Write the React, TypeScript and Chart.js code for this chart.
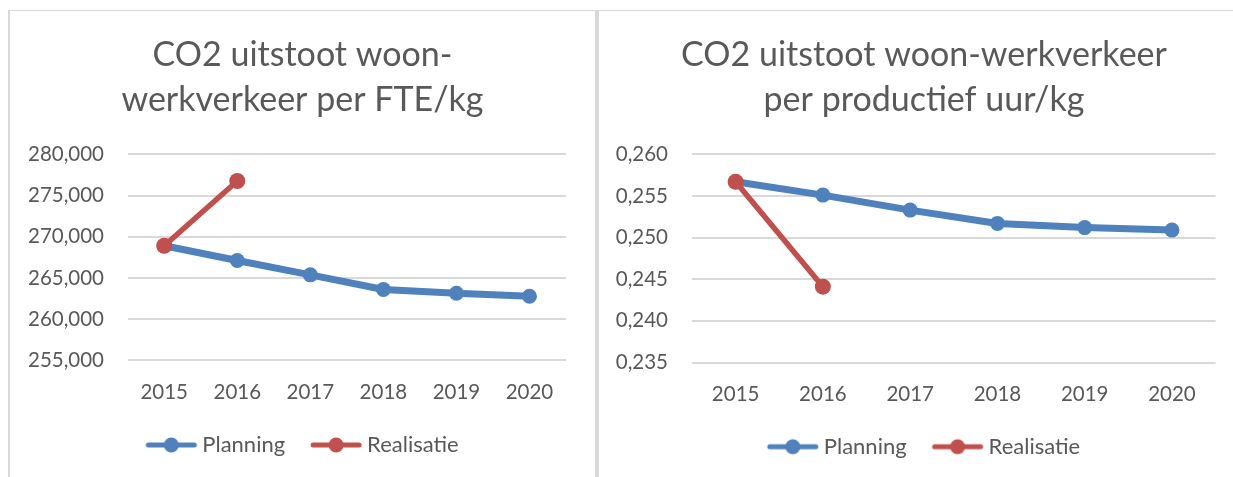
import React, { useEffect, useRef } from "react";
import { Chart, registerables } from "chart.js";

Chart.register(...registerables);

// ---- data ----
const years = ["2015", "2016", "2017", "2018", "2019", "2020"];
const seriesNames = ["Planning", "Realisatie"];
const seriesColors = ["#4F81BD", "#C0504D"];

const fteTitle = ["CO2 uitstoot woon-", "werkverkeer per FTE/kg"];
const ftePlanning = [268.9, 267.11, 265.37, 263.59, 263.14, 262.78];
const fteRealisatie = [268.9, 276.76, null, null, null, null];
const fteTicks = [255, 260, 265, 270, 275, 280];

const uurTitle = ["CO2 uitstoot woon-werkverkeer", "per productief uur/kg"];
const uurPlanning = [0.2567, 0.2551, 0.2533, 0.2517, 0.2512, 0.2509];
const uurRealisatie = [0.2567, 0.2441, null, null, null, null];
const uurTicks = [0.235, 0.24, 0.245, 0.25, 0.255, 0.26];

const TEXT = "#595959";
const GRID = "#D9D9D9";
const FONT = "Lato";

function fmt(v: number) {
  return Number(v).toFixed(3).replace(".", ",");
}

// legend swatch: line with a round marker; the image is wider on the left so the
// visible line sits flush with the start of the legend item and close to the text
function legendIcon(color: string) {
  const c = document.createElement("canvas");
  c.width = 61;
  c.height = 18;
  const ctx = c.getContext("2d")!;
  ctx.strokeStyle = color;
  ctx.lineWidth = 5;
  ctx.lineCap = "round";
  ctx.beginPath();
  ctx.moveTo(10, 9);
  ctx.lineTo(56, 9);
  ctx.stroke();
  ctx.fillStyle = color;
  ctx.beginPath();
  ctx.arc(33, 9, 7.5, 0, Math.PI * 2);
  ctx.fill();
  return c;
}

type Cfg = {
  title: string[];
  planning: (number | null)[];
  realisatie: (number | null)[];
  ticks: number[];
  yWidth: number;
  rightPad: number;
  bottomPad: number;
  xHeight: number;
  xPad: number;
  yPad: number;
};

function buildConfig(p: Cfg): any {
  const icons = seriesColors.map(legendIcon);
  return {
    type: "line",
    data: {
      labels: years,
      datasets: [
        {
          label: seriesNames[0],
          data: p.planning,
          borderColor: seriesColors[0],
          backgroundColor: seriesColors[0],
          pointBackgroundColor: seriesColors[0],
          borderWidth: 7,
          pointRadius: 7.5,
          pointBorderWidth: 0,
          borderCapStyle: "round",
          borderJoinStyle: "round",
          tension: 0,
          order: 1,
        },
        {
          label: seriesNames[1],
          data: p.realisatie,
          borderColor: seriesColors[1],
          backgroundColor: seriesColors[1],
          pointBackgroundColor: seriesColors[1],
          borderWidth: 5.5,
          pointRadius: 8,
          pointBorderWidth: 0,
          borderCapStyle: "round",
          borderJoinStyle: "round",
          tension: 0,
          order: 0,
        },
      ],
    },
    options: {
      responsive: false,
      animation: false,
      events: [],
      layout: { padding: { left: 0, right: 0, top: 0, bottom: p.bottomPad } },
      plugins: {
        tooltip: { enabled: false },
        title: {
          display: true,
          text: p.title,
          color: TEXT,
          font: { family: FONT, size: 34, weight: "normal", lineHeight: "45px" },
          padding: { top: 20.5, bottom: 31.8 },
        },
        legend: {
          display: true,
          position: "bottom",
          labels: {
            usePointStyle: true,
            pointStyleWidth: 45,
            padding: 26,
            color: TEXT,
            font: { family: FONT, size: 22 },
            generateLabels: (chart: any) => {
              const items = (Chart as any).defaults.plugins.legend.labels.generateLabels(chart);
              return items
                .slice()
                .sort((a: any, b: any) => a.datasetIndex - b.datasetIndex)
                .map((it: any) => ({ ...it, pointStyle: icons[it.datasetIndex] }));
            },
          },
        },
      },
      scales: {
        x: {
          offset: true,
          grid: { display: false, drawTicks: false },
          border: { display: false },
          ticks: { color: TEXT, font: { family: FONT, size: 20.5 }, padding: p.xPad },
          afterFit: (s: any) => {
            s.height = p.xHeight;
          },
        },
        y: {
          min: p.ticks[0],
          max: p.ticks[p.ticks.length - 1],
          grid: { color: GRID, lineWidth: 2, drawTicks: false },
          border: { display: false },
          ticks: {
            color: TEXT,
            font: { family: FONT, size: 20.5 },
            padding: p.yPad,
            callback: (v: any) => fmt(v),
          },
          afterBuildTicks: (s: any) => {
            s.ticks = p.ticks.map((v) => ({ value: v }));
          },
          afterFit: (s: any) => {
            s.width = p.yWidth;
          },
        },
        spacer: {
          type: "linear",
          position: "right",
          display: true,
          grid: { display: false, drawTicks: false },
          border: { display: false },
          ticks: { display: false },
          afterFit: (s: any) => {
            s.width = p.rightPad;
          },
        },
      },
    },
  };
}

function LineChart({ cfg, width, height }: { cfg: Cfg; width: number; height: number }) {
  const ref = useRef<HTMLCanvasElement>(null);
  useEffect(() => {
    if (!ref.current) return;
    const chart = new Chart(ref.current, buildConfig(cfg));
    return () => chart.destroy();
  }, []);
  return <canvas ref={ref} width={width} height={height} style={{ display: "block", width, height }} />;
}

export default function App() {
  return (
    <div
      style={{
        position: "fixed",
        left: 0,
        top: 0,
        width: 1233,
        height: 477,
        overflow: "hidden",
        background: "#fff",
      }}
    >
      <div
        style={{
          position: "absolute",
          left: 8,
          top: 10,
          width: 589,
          height: 520,
          boxSizing: "border-box",
          borderLeft: `2px solid ${GRID}`,
          borderTop: `1px solid ${GRID}`,
          borderRight: `2px solid ${GRID}`,
        }}
      />
      <div
        style={{
          position: "absolute",
          left: 597,
          top: 10,
          width: 700,
          height: 520,
          boxSizing: "border-box",
          borderLeft: `2px solid ${GRID}`,
          borderTop: `1px solid ${GRID}`,
        }}
      />
      <div style={{ position: "absolute", left: 10, top: 12 }}>
        <LineChart
          width={585}
          height={465}
          cfg={{
            title: fteTitle,
            planning: ftePlanning,
            realisatie: fteRealisatie,
            ticks: fteTicks,
            yWidth: 117.7,
            rightPad: 29,
            bottomPad: 11,
            xHeight: 47.7,
            xPad: 19.7,
            yPad: 23.7,
          }}
        />
      </div>
      <div style={{ position: "absolute", left: 599, top: 12 }}>
        <LineChart
          width={650}
          height={465}
          cfg={{
            title: uurTitle,
            planning: uurPlanning,
            realisatie: uurRealisatie,
            ticks: uurTicks,
            yWidth: 93,
            rightPad: 33.4,
            bottomPad: 9.3,
            xHeight: 47.2,
            xPad: 19.8,
            yPad: 24,
          }}
        />
      </div>
    </div>
  );
}
